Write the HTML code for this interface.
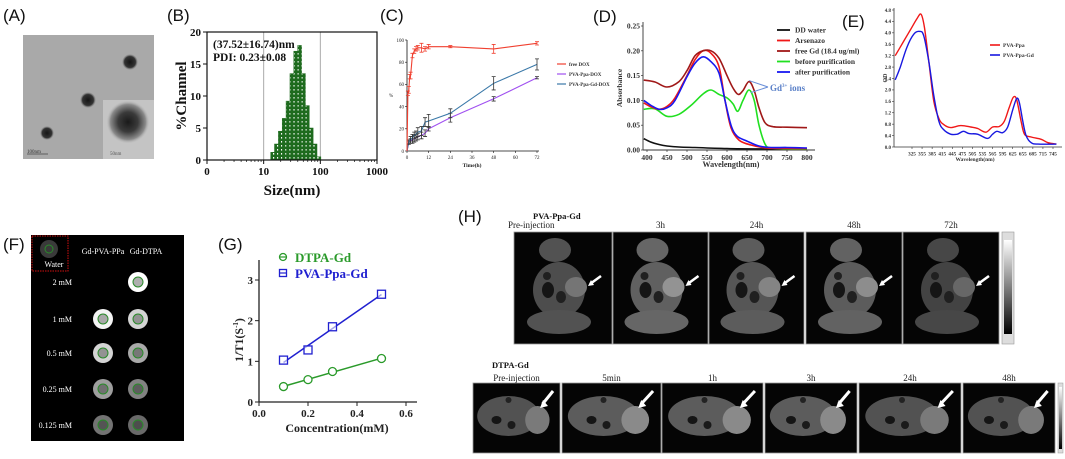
<!DOCTYPE html>
<html><head><meta charset="utf-8"><style>
html,body{margin:0;padding:0;background:#fff;}
svg{display:block;}
text{font-family:"Liberation Serif",serif;}
.pl{font-family:"Liberation Sans",sans-serif;font-size:17px;fill:#111;}
</style></head><body>
<svg id="fig" width="1065" height="459" viewBox="0 0 1065 459" xmlns="http://www.w3.org/2000/svg">
<defs>
<radialGradient id="inset" cx="50%" cy="50%" r="50%"><stop offset="0" stop-color="#1a1a1a"/><stop offset="0.45" stop-color="#3a3a3a"/><stop offset="0.8" stop-color="#8a8a8a"/><stop offset="1" stop-color="#c8c8c8" stop-opacity="0"/></radialGradient>
<radialGradient id="dot" cx="50%" cy="50%" r="50%"><stop offset="0" stop-color="#151515"/><stop offset="0.7" stop-color="#333"/><stop offset="1" stop-color="#777" stop-opacity="0"/></radialGradient>
<linearGradient id="cbar" x1="0" y1="0" x2="0" y2="1"><stop offset="0" stop-color="#fff"/><stop offset="1" stop-color="#000"/></linearGradient>
<pattern id="chk" width="4" height="4" patternUnits="userSpaceOnUse"><rect width="4" height="4" fill="#1e6b1e"/><rect x="1" y="1" width="1.6" height="1.6" fill="#fff"/></pattern>
</defs>

<text class="pl" x="3" y="21">(A)</text>
<text class="pl" x="167" y="21">(B)</text>
<text class="pl" x="380" y="21">(C)</text>
<text class="pl" x="593" y="22">(D)</text>
<text class="pl" x="842" y="27">(E)</text>
<text class="pl" x="3" y="250">(F)</text>
<text class="pl" x="218" y="250">(G)</text>
<text class="pl" x="458" y="222">(H)</text>

<g>
<rect x="23" y="35" width="131" height="124" fill="#a9a9a9"/>
<rect x="103" y="100" width="51" height="59" fill="#c4c4c4"/>
<circle cx="128" cy="122" r="22" fill="url(#inset)"/>
<circle cx="130" cy="62" r="8" fill="url(#dot)"/>
<circle cx="88" cy="100" r="8" fill="url(#dot)"/>
<circle cx="47" cy="133" r="7" fill="url(#dot)"/>
<line x1="27" y1="154" x2="48" y2="154" stroke="#444" stroke-width="0.8"/>
<text x="27" y="153" font-size="5" fill="#333" font-family="Liberation Sans,sans-serif">100nm</text>
<text x="110" y="155" font-size="5" fill="#555" font-family="Liberation Sans,sans-serif">50nm</text>
</g>

<g id="panelB"></g>
<g id="panelC"></g>
<g id="panelD"></g>
<g id="panelE"></g>

<g>
<rect x="31" y="235" width="153" height="206" fill="#000"/>
<rect x="32" y="236" width="36" height="35" fill="none" stroke="#d01010" stroke-width="1" stroke-dasharray="1.5,1"/>
<circle cx="49" cy="249" r="9" fill="#3a3a3a"/><circle cx="49" cy="249" r="4" fill="none" stroke="#2a8a2a" stroke-width="1"/>
<text x="54" y="267" font-size="8" fill="#fff" text-anchor="middle">Water</text>
<text x="103" y="254" font-size="8" fill="#fff" text-anchor="middle">Gd-PVA-PPa</text>
<text x="146" y="254" font-size="8" fill="#fff" text-anchor="middle">Gd-DTPA</text>
<g id="phantomDots"></g>
</g>

<g id="panelG"></g>

<g id="panelH">
<text x="533" y="219" font-size="8.5" font-weight="bold" fill="#111">PVA-Ppa-Gd</text>
<text x="492" y="368" font-size="8.5" font-weight="bold" fill="#111">DTPA-Gd</text>
</g>
</svg>

<script>
var NS='http://www.w3.org/2000/svg';
function mk(parent,tag,attrs,txt){var e=document.createElementNS(NS,tag);for(var k in attrs)e.setAttribute(k,attrs[k]);if(txt!==undefined)e.textContent=txt;parent.appendChild(e);return e;}
function pathFrom(xs,ys,sx,sy){var d='';for(var i=0;i<xs.length;i++){d+=(i?'L':'M')+sx(xs[i]).toFixed(1)+','+sy(ys[i]).toFixed(1);}return d;}
function smoothFrom(xs,ys,sx,sy){var p=xs.map(function(x,i){return [sx(x),sy(ys[i])];});var d='M'+p[0][0].toFixed(1)+','+p[0][1].toFixed(1);for(var i=0;i<p.length-1;i++){var p0=p[i-1]||p[i],p1=p[i],p2=p[i+1],p3=p[i+2]||p2;var c1x=p1[0]+(p2[0]-p0[0])/6,c1y=p1[1]+(p2[1]-p0[1])/6,c2x=p2[0]-(p3[0]-p1[0])/6,c2y=p2[1]-(p3[1]-p1[1])/6;d+='C'+c1x.toFixed(1)+','+c1y.toFixed(1)+' '+c2x.toFixed(1)+','+c2y.toFixed(1)+' '+p2[0].toFixed(1)+','+p2[1].toFixed(1);}return d;}
</script>

<script>
var bSizes=[14.4,16.8,19.7,23.0,26.9,31.5,36.8,43.1,50.4,59.0,69.0,80.7,94.4];
var bValues=[1.2,2.5,4.5,6.5,9.2,13.5,17,17.9,13.5,8.5,5,2.5,0.5];
var bXTicks=[1,10,100,1000];
var bXTickLabels=['0','10','100','1000'];
var bYTicks=[0,5,10,15,20];
(function(){
var g=document.getElementById('panelB');
var x0=207,x1=377,y0=160,y1=32;
function sx(v){return x0+Math.log10(v)/3*(x1-x0);}
function sy(v){return y0-v/20*(y0-y1);}
[10,100].forEach(function(v){var l=mk(g,'line',{x1:sx(v),y1:y1,x2:sx(v),y2:y0,stroke:'#aaa','stroke-width':1});});
var hw=0.0685/2;
bSizes.forEach(function(s,i){var l=Math.log10(s);var xa=sx(Math.pow(10,l-hw)),xb=sx(Math.pow(10,l+hw));
var r=mk(g,'rect',{x:xa,y:sy(bValues[i]),width:xb-xa,height:y0-sy(bValues[i]),fill:'url(#chk)',stroke:'#1e6b1e','stroke-width':0.5});

});
mk(g,'rect',{x:x0,y:y1,width:x1-x0,height:y0-y1,fill:'none',stroke:'#111','stroke-width':1.2});
bXTicks.forEach(function(v,i){mk(g,'line',{x1:sx(v),y1:y0,x2:sx(v),y2:y0+4,stroke:'#111'});var t=mk(g,'text',{x:sx(v),y:y0+15,'font-size':11,'font-weight':'bold','text-anchor':'middle',fill:'#111'},bXTickLabels[i]);


if(i<3){for(var k=2;k<10;k++){var m=sx(v*k);mk(g,'line',{x1:m,y1:y0,x2:m,y2:y0+2,stroke:'#111','stroke-width':0.7});}}});
bYTicks.forEach(function(v){mk(g,'line',{x1:x0-4,y1:sy(v),x2:x0,y2:sy(v),stroke:'#111'});var t=mk(g,'text',{x:x0-6,y:sy(v)+4,'font-size':11,'font-weight':'bold','text-anchor':'end',fill:'#111'},String(v));

});
var t=mk(g,'text',{x:213,y:48,'font-size':11.5,'font-weight':'bold',fill:'#111'},'(37.52±16.74)nm');


t=mk(g,'text',{x:213,y:61,'font-size':11.5,'font-weight':'bold',fill:'#111'},'PDI: 0.23±0.08');


t=mk(g,'text',{x:292,y:195,'font-size':15,'font-weight':'bold','text-anchor':'middle',fill:'#111'},'Size(nm)');


t=mk(g,'text',{x:0,y:0,'font-size':15,'font-weight':'bold','text-anchor':'middle',fill:'#111',transform:'translate(186,96) rotate(-90)'},'%Channel');


})();
</script>

<script>
var cTimeRed=[0,0.5,1,1.5,2,3,4,5,6,8,10,12,24,48,72];
var cFreeDox=[0,52,55,67,68,86,90,92,93,93,92,94,94,92,97];
var cFreeDoxErr=[0,2,3,2,3,2,2,2,2,4,2,2,1,4,1.5];
var cTime=[0,1,2,3,4,5,6,8,10,12,24,48,72];
var cPvaPpa=[0,8,9,10,11,12,13,14,16,20,30,47,66];
var cPvaPpaErr=[0,1,2,3,3,3,3,3,3,2,4,2,1];
var cPvaGd=[0,8,10,12,14,15,17,18,26,27,34,61,78];
var cPvaGdErr=[0,2,3,3,3,3,4,4,4,6,4,6,5];
var cXTicks=[0,12,24,36,48,60,72];
var cYTicks=[0,20,40,60,80,100];
(function(){
var g=document.getElementById('panelC');
var x0=407,x1=537,y0=151,y1=40;
function sx(v){return x0+v/72*(x1-x0);}
function sy(v){return y0-v/100*(y0-y1);}
mk(g,'line',{x1:x0,y1:y0,x2:x1+2,y2:y0,stroke:'#111','stroke-width':0.8});
mk(g,'line',{x1:x0,y1:y0,x2:x0,y2:y1,stroke:'#111','stroke-width':0.8});
cXTicks.forEach(function(v){mk(g,'line',{x1:sx(v),y1:y0,x2:sx(v),y2:y0+2,stroke:'#111','stroke-width':0.6});var t=mk(g,'text',{x:sx(v),y:y0+8,'font-size':5,'text-anchor':'middle',fill:'#222'},String(v));

});
cYTicks.forEach(function(v){mk(g,'line',{x1:x0-2,y1:sy(v),x2:x0,y2:sy(v),stroke:'#111','stroke-width':0.6});var t=mk(g,'text',{x:x0-3,y:sy(v)+1.8,'font-size':5,'text-anchor':'end',fill:'#222'},String(v));

});
function series(xs,ys,es,col,name){var p=mk(g,'path',{d:pathFrom(xs,ys,sx,sy),fill:'none',stroke:col,'stroke-width':1.1});


xs.forEach(function(x,i){if(!es[i])return;var cx=sx(x),a=sy(ys[i]+es[i]),b=sy(ys[i]-es[i]);var ec=(col==='#f04030')?col:'#333';mk(g,'path',{d:'M'+cx+','+a+'V'+b+'M'+(cx-2)+','+a+'H'+(cx+2)+'M'+(cx-2)+','+b+'H'+(cx+2),stroke:ec,'stroke-width':0.8,fill:'none'});});}
series(cTime,cPvaPpa,cPvaPpaErr,'#a050f0','pva-ppa-dox-line');
series(cTime,cPvaGd,cPvaGdErr,'#3a78a8','pva-ppa-gd-dox-line');
series(cTimeRed,cFreeDox,cFreeDoxErr,'#f04030','free-dox-line');
var t=mk(g,'text',{x:472,y:167,'font-size':5.5,'font-weight':'bold','text-anchor':'middle',fill:'#222'},'Time(h)');


t=mk(g,'text',{x:389,y:97,'font-size':5,fill:'#222'},'%');


var leg=[['free DOX','#f04030',64],['PVA-Ppa-DOX','#a050f0',74],['PVA-Ppa-Gd-DOX','#3a78a8',84]];
leg.forEach(function(l){var e=mk(g,'g',{});


mk(e,'line',{x1:557,y1:l[2],x2:566,y2:l[2],stroke:l[1],'stroke-width':1.2});mk(e,'text',{x:569,y:l[2]+1.8,'font-size':5,'font-weight':'bold',fill:'#333'},l[0]);});
})();
</script>

<script>
var dWlWater=[392,410,430,450,480,520,600,700,800];
var dWater=[0.023,0.016,0.011,0.008,0.006,0.005,0.003,0.002,0.002];
var dWlArs=[392,410,430,450,470,500,520,540,560,580,595,610,630,660,700,750,800];
var dArsenazo=[0.095,0.087,0.082,0.088,0.105,0.15,0.182,0.2,0.195,0.168,0.1,0.045,0.02,0.01,0.004,0.003,0.003];
var dWlGd=[392,420,450,480,500,520,540,560,580,600,615,628,640,655,668,680,695,715,750,800];
var dFreeGd=[0.141,0.137,0.127,0.138,0.16,0.19,0.2,0.2,0.185,0.15,0.125,0.112,0.12,0.138,0.12,0.085,0.055,0.047,0.046,0.045];
var dWlBefore=[392,420,450,480,510,540,560,580,600,615,627,640,655,668,680,695,710,750,800];
var dBefore=[0.082,0.083,0.068,0.072,0.09,0.113,0.121,0.112,0.105,0.093,0.078,0.1,0.121,0.1,0.05,0.012,0.004,0.002,0.002];
var dWlAfter=[392,410,430,450,470,500,520,540,560,580,595,610,625,650,680,710,750,800];
var dAfter=[0.1,0.09,0.082,0.085,0.1,0.148,0.175,0.188,0.178,0.155,0.1,0.05,0.028,0.018,0.008,0.005,0.005,0.004];
var dXTicks=[400,450,500,550,600,650,700,750,800];
var dYTicks=[0,0.05,0.10,0.15,0.20,0.25];
var dYTickLabels=['0.00','0.05','0.10','0.15','0.20','0.25'];
(function(){
var g=document.getElementById('panelD');
var y0=150,y1=26;
function sx(v){return 647+(v-400)*0.4;}
function sy(v){return y0-v/0.25*(y0-y1);}
mk(g,'line',{x1:643,y1:y0,x2:815,y2:y0,stroke:'#333','stroke-width':0.9});
mk(g,'line',{x1:643,y1:y0,x2:643,y2:y1-4,stroke:'#333','stroke-width':0.9});
dXTicks.forEach(function(v){mk(g,'line',{x1:sx(v),y1:y0,x2:sx(v),y2:y0+2,stroke:'#333','stroke-width':0.7});var t=mk(g,'text',{x:sx(v),y:y0+10,'font-size':7.5,'font-weight':'bold','text-anchor':'middle',fill:'#333'},String(v));

});
dYTicks.forEach(function(v,i){mk(g,'line',{x1:641,y1:sy(v),x2:643,y2:sy(v),stroke:'#333','stroke-width':0.7});var t=mk(g,'text',{x:640,y:sy(v)+2.5,'font-size':7.5,'font-weight':'bold','text-anchor':'end',fill:'#333'},dYTickLabels[i]);

});
function s(xs,ys,col,name){var p=mk(g,'path',{d:smoothFrom(xs,ys,sx,sy),fill:'none',stroke:col,'stroke-width':1.6});

}
s(dWlWater,dWater,'#111','dd-water-line');
s(dWlBefore,dBefore,'#20e020','before-purification-line');
s(dWlArs,dArsenazo,'#f01818','arsenazo-line');
s(dWlGd,dFreeGd,'#a01818','free-gd-line');
s(dWlAfter,dAfter,'#1818f0','after-purification-line');
var leg=[['DD water','#111'],['Arsenazo','#f01818'],['free Gd (18.4 ug/ml)','#a01818'],['before purification','#20e020'],['after purification','#1818f0']];
leg.forEach(function(l,i){var y=30+i*10.5;var e=mk(g,'g',{});


mk(e,'line',{x1:777,y1:y,x2:790,y2:y,stroke:l[1],'stroke-width':1.8});mk(e,'text',{x:795,y:y+2.5,'font-size':7.5,'font-weight':'bold',fill:'#333'},l[0]);});
mk(g,'path',{d:'M'+sx(655)+','+(sy(0.138)-1)+'L768,87M'+sx(660)+','+(sy(0.118)+1)+'L768,87',stroke:'#6a8fd8','stroke-width':1,fill:'none'});
var t=mk(g,'text',{x:770,y:91,'font-size':9,'font-weight':'bold',fill:'#5a80c8'});


t.appendChild(document.createTextNode('Gd'));mk(t,'tspan',{'font-size':5,dy:-4},'3+');mk(t,'tspan',{dy:4},' ions');
t=mk(g,'text',{x:731,y:167,'font-size':8,'font-weight':'bold','text-anchor':'middle',fill:'#333'},'Wavelength(nm)');


t=mk(g,'text',{x:0,y:0,'font-size':7.5,'font-weight':'bold','text-anchor':'middle',fill:'#333',transform:'translate(622,88) rotate(-90)'},'Absorbance');


})();
</script>

<script>
var eWlRed=[275,300,320,340,352,362,375,390,405,420,440,470,500,520,545,565,585,600,615,627,637,650,660,680,710,730,755];
var ePvaPpa=[3.2,3.7,4.1,4.5,4.65,4.2,3.0,1.6,1.0,0.78,0.68,0.75,0.7,0.65,0.52,0.7,0.72,0.9,1.4,1.75,1.65,0.9,0.45,0.35,0.27,0.15,0.1];
var eWlBlue=[275,290,310,330,348,360,375,390,405,420,440,460,478,495,520,550,565,578,595,610,625,637,645,655,665,680,700,755];
var ePvaPpaGd=[2.35,2.8,3.5,3.95,4.05,3.9,3.0,1.8,0.9,0.6,0.45,0.45,0.55,0.47,0.45,0.3,0.45,0.55,0.5,0.7,1.3,1.7,1.55,0.9,0.4,0.15,0.1,0.1];
var eXTicks=[325,355,385,415,445,475,505,535,565,595,625,655,685,715,745];
var eYTicks=[0,0.4,0.8,1.2,1.6,2.0,2.4,2.8,3.2,3.6,4.0,4.4,4.8];
(function(){
var g=document.getElementById('panelE');
var y0=147,y1=10;
function sx(v){return 912+(v-325)*0.3357;}
function sy(v){return y0-v/4.8*(y0-y1);}
mk(g,'line',{x1:894,y1:y0,x2:1062,y2:y0,stroke:'#333','stroke-width':0.8});
mk(g,'line',{x1:894,y1:y0,x2:894,y2:y1-2,stroke:'#333','stroke-width':0.8});
eXTicks.forEach(function(v){mk(g,'line',{x1:sx(v),y1:y0,x2:sx(v),y2:y0+2,stroke:'#333','stroke-width':0.6});var t=mk(g,'text',{x:sx(v),y:y0+8.5,'font-size':5.2,'font-weight':'bold','text-anchor':'middle',fill:'#333'},String(v));

});
eYTicks.forEach(function(v){mk(g,'line',{x1:892,y1:sy(v),x2:894,y2:sy(v),stroke:'#333','stroke-width':0.6});var t=mk(g,'text',{x:891,y:sy(v)+1.8,'font-size':5,'font-weight':'bold','text-anchor':'end',fill:'#333'},v.toFixed(1));

});
var p=mk(g,'path',{d:smoothFrom(eWlRed,ePvaPpa,sx,sy),fill:'none',stroke:'#f01818','stroke-width':1.4});


p=mk(g,'path',{d:smoothFrom(eWlBlue,ePvaPpaGd,sx,sy),fill:'none',stroke:'#1818e0','stroke-width':1.4});


[['PVA-Ppa','#f01818',45],['PVA-Ppa-Gd','#1818e0',55]].forEach(function(l){var e=mk(g,'g',{});


mk(e,'line',{x1:990,y1:l[2],x2:1000,y2:l[2],stroke:l[1],'stroke-width':1.6});mk(e,'text',{x:1003,y:l[2]+2,'font-size':5.5,'font-weight':'bold',fill:'#333'},l[0]);});
var t=mk(g,'text',{x:975,y:161,'font-size':5.5,'font-weight':'bold','text-anchor':'middle',fill:'#333'},'Wavelength(nm)');


t=mk(g,'text',{x:0,y:0,'font-size':6,'font-weight':'bold','text-anchor':'middle',fill:'#333',transform:'translate(887,78) rotate(-90)'},'OD');


})();
</script>

<script>
var fRows=['2 mM','1 mM','0.5 mM','0.25 mM','0.125 mM'];
var fPvaSignal=[null,0.95,0.8,0.55,0.35];
var fDtpaSignal=[1.0,0.8,0.6,0.42,0.3];
(function(){
var g=document.getElementById('phantomDots');
var rowY=[282,319,353,389,425];
function col(v){var c=Math.round(40+v*215);return 'rgb('+c+','+c+','+c+')';}
fRows.forEach(function(r,i){var t=mk(g,'text',{x:72,y:rowY[i]+3,'font-size':8,fill:'#fff','text-anchor':'end'},r);


[[103,fPvaSignal[i]],[138,fDtpaSignal[i]]].forEach(function(c){if(c[1]===null)return;var e=mk(g,'g',{});


mk(e,'circle',{cx:c[0],cy:rowY[i],r:10,fill:col(c[1])});mk(e,'circle',{cx:c[0],cy:rowY[i],r:5,fill:'#1a1a1a','fill-opacity':0.35,stroke:'#2a8a2a','stroke-width':1});});});
})();
</script>

<script>
var gConc=[0.1,0.2,0.3,0.5];
var gDtpa=[0.38,0.55,0.75,1.07];
var gPva=[1.03,1.28,1.85,2.65];
var gXTicks=[0,0.2,0.4,0.6];
var gYTicks=[0,1,2,3];
(function(){
var g=document.getElementById('panelG');
var y0=402;
function sx(v){return 259+v*245;}
function sy(v){return y0-v/3*(402-280);}
mk(g,'line',{x1:259,y1:y0,x2:417,y2:y0,stroke:'#222','stroke-width':1.3});
mk(g,'line',{x1:259,y1:y0,x2:259,y2:260,stroke:'#222','stroke-width':1.3});
gXTicks.forEach(function(v){mk(g,'line',{x1:sx(v),y1:y0,x2:sx(v),y2:y0+4,stroke:'#222'});var t=mk(g,'text',{x:sx(v),y:y0+15,'font-size':11,'font-weight':'bold','text-anchor':'middle',fill:'#222'},v.toFixed(1));

});
gYTicks.forEach(function(v){mk(g,'line',{x1:255,y1:sy(v),x2:259,y2:sy(v),stroke:'#222'});var t=mk(g,'text',{x:253,y:sy(v)+4,'font-size':11,'font-weight':'bold','text-anchor':'end',fill:'#222'},String(v));

});
function fit(xs,ys){var n=xs.length,mx=0,my=0;for(var i=0;i<n;i++){mx+=xs[i];my+=ys[i];}mx/=n;my/=n;var a=0,b=0;for(i=0;i<n;i++){a+=(xs[i]-mx)*(ys[i]-my);b+=(xs[i]-mx)*(xs[i]-mx);}var k=a/b;return [k,my-k*mx];}
function series(ys,col,shape,name){var f=fit(gConc,ys);var xa=gConc[0],xb=gConc[gConc.length-1];
var l=mk(g,'line',{x1:sx(xa),y1:sy(f[0]*xa+f[1]),x2:sx(xb),y2:sy(f[0]*xb+f[1]),stroke:col,'stroke-width':1.5});


gConc.forEach(function(x,i){var m;if(shape==='c')m=mk(g,'circle',{cx:sx(x),cy:sy(ys[i]),r:4,fill:'#fff',stroke:col,'stroke-width':1.3});else m=mk(g,'rect',{x:sx(x)-4,y:sy(ys[i])-4,width:8,height:8,fill:'#fff','fill-opacity':0.6,stroke:col,'stroke-width':1.3});

});}
series(gDtpa,'#2a9a2a','c','dtpa-gd');
series(gPva,'#2020d0','s','pva-ppa-gd');
var e=mk(g,'g',{});


mk(e,'circle',{cx:283,cy:257,r:3.5,fill:'#fff',stroke:'#2a9a2a','stroke-width':1.3});mk(e,'line',{x1:279,y1:257,x2:287,y2:257,stroke:'#2a9a2a','stroke-width':1.2});
mk(e,'text',{x:295,y:262,'font-size':13,'font-weight':'bold',fill:'#2a9a2a'},'DTPA-Gd');
e=mk(g,'g',{});


mk(e,'rect',{x:279.5,y:269.5,width:7,height:7,fill:'#fff',stroke:'#2020d0','stroke-width':1.3});mk(e,'line',{x1:279,y1:273,x2:287,y2:273,stroke:'#2020d0','stroke-width':1.2});
mk(e,'text',{x:295,y:278,'font-size':13,'font-weight':'bold',fill:'#2020d0'},'PVA-Ppa-Gd');
var t=mk(g,'text',{x:337,y:432,'font-size':12,'font-weight':'bold','text-anchor':'middle',fill:'#222'},'Concentration(mM)');


t=mk(g,'text',{x:0,y:0,'font-size':12,'font-weight':'bold','text-anchor':'middle',fill:'#222',transform:'translate(243,340) rotate(-90)'});


t.appendChild(document.createTextNode('1/T1(S'));mk(t,'tspan',{'font-size':7,dy:-5},'-1');mk(t,'tspan',{dy:5},')');
})();
</script>

<script>
var hTopLabels=['Pre-injection','3h','24h','48h','72h'];
var hTopBright=[0.4,0.5,0.45,0.48,0.35];
var hBotLabels=['Pre-injection','5min','1h','3h','24h','48h'];
var hBotBright=[0.4,0.45,0.45,0.45,0.4,0.4];
(function(){
var g=document.getElementById('panelH');
var topX=[[514,612],[613,708],[709,804],[806,902],[903,999]];
var botX=[[473,560],[562,661],[662,763],[765,857],[859,961],[963,1055]];
function gray(v){var c=Math.round(v*255);return 'rgb('+c+','+c+','+c+')';}
topX.forEach(function(f,i){var e=mk(g,'g',{});


var w=f[1]-f[0],cx=(f[0]+f[1])/2,b=hTopBright[i];
mk(e,'rect',{x:f[0],y:232,width:w,height:112,fill:'#050505',stroke:'#999','stroke-width':0.8});
mk(e,'ellipse',{cx:cx-8,cy:250,rx:16,ry:12,fill:gray(b*0.8)});
mk(e,'ellipse',{cx:cx-4,cy:290,rx:26,ry:28,fill:gray(b*0.75)});
mk(e,'ellipse',{cx:cx-4,cy:322,rx:32,ry:12,fill:gray(b*0.8)});
mk(e,'ellipse',{cx:cx+13,cy:287,rx:11,ry:10,fill:gray(Math.min(1,b*1.15))});
mk(e,'ellipse',{cx:cx-15,cy:290,rx:6,ry:8,fill:'#151515'});
mk(e,'ellipse',{cx:cx-2,cy:297,rx:5,ry:6,fill:'#202020'});
mk(e,'ellipse',{cx:cx-16,cy:276,rx:4,ry:4,fill:'#202020'});
mk(e,'path',{d:'M'+(cx+38)+',276L'+(cx+27)+',284',stroke:'#fff','stroke-width':2.5});
mk(e,'path',{d:'M'+(cx+25)+',286l6,-1 l-3,-5z',fill:'#fff'});
var t=mk(g,'text',{x:(i===0?f[0]-6:cx),y:228,'font-size':9,fill:'#222','text-anchor':(i===0?'start':'middle')},hTopLabels[i]);

});
var cb=mk(g,'g',{});


mk(cb,'rect',{x:1002,y:232,width:12,height:112,fill:'#ddd',stroke:'#999','stroke-width':0.6});mk(cb,'rect',{x:1004,y:240,width:8,height:94,fill:'url(#cbar)'});
botX.forEach(function(f,i){var e=mk(g,'g',{});


var w=f[1]-f[0],cx=(f[0]+f[1])/2,b=hBotBright[i];
mk(e,'rect',{x:f[0],y:383,width:w,height:70,fill:'#050505',stroke:'#999','stroke-width':0.8});
mk(e,'ellipse',{cx:cx-8,cy:416,rx:w*0.36,ry:20,fill:gray(b*0.8)});
mk(e,'ellipse',{cx:cx+w*0.24,cy:420,rx:w*0.14,ry:14,fill:gray(Math.min(1,b*1.2))});
mk(e,'ellipse',{cx:cx-20,cy:420,rx:5,ry:4,fill:'#151515'});
mk(e,'ellipse',{cx:cx-5,cy:425,rx:4,ry:4,fill:'#1a1a1a'});
mk(e,'ellipse',{cx:cx-8,cy:400,rx:3,ry:3,fill:'#222'});
mk(e,'path',{d:'M'+(cx+w*0.42)+',391L'+(cx+w*0.3)+',404',stroke:'#fff','stroke-width':3});
mk(e,'path',{d:'M'+(cx+w*0.27)+',408l8,-2 l-5,-6z',fill:'#fff'});
var t=mk(g,'text',{x:cx,y:381,'font-size':9,fill:'#222','text-anchor':'middle'},hBotLabels[i]);

});
cb=mk(g,'g',{});


mk(cb,'rect',{x:1058,y:383,width:5,height:70,fill:'#ddd',stroke:'#999','stroke-width':0.5});mk(cb,'rect',{x:1059,y:387,width:3,height:62,fill:'url(#cbar)'});
})();
</script>
</body></html>
